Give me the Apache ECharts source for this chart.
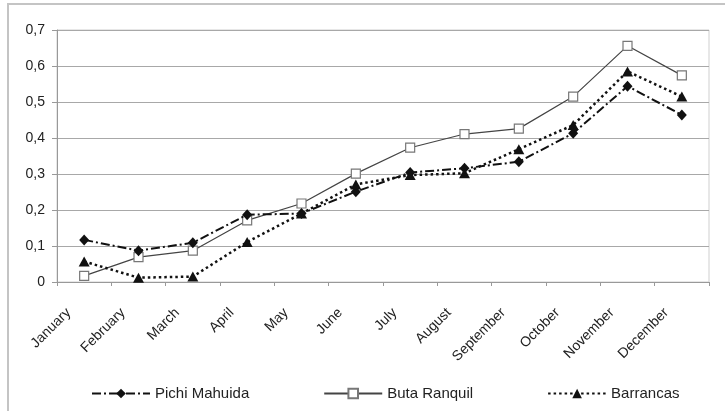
<!DOCTYPE html>
<html>
<head>
<meta charset="utf-8">
<script src="https://cdn.jsdelivr.net/npm/echarts@6/dist/echarts.min.js"></script>
<style>
  html, body { margin: 0; padding: 0; background: #fff; }
  #chart { width: 725px; height: 411px; }
</style>
</head>
<body>
<div id="chart"></div>
<script>
// Monthly values per station
const months = ['January', 'February', 'March', 'April', 'May', 'June', 'July',
  'August', 'September', 'October', 'November', 'December'];
const pichiMahuida = [0.117, 0.087, 0.109, 0.187, 0.19, 0.251, 0.304, 0.316, 0.334, 0.413, 0.544, 0.464];
const butaRanquil = [0.017, 0.069, 0.087, 0.171, 0.218, 0.301, 0.373, 0.411, 0.426, 0.515, 0.656, 0.574];
const barrancas = [0.057, 0.012, 0.015, 0.111, 0.19, 0.271, 0.297, 0.302, 0.369, 0.436, 0.585, 0.515];
const yTicks = [0, 0.1, 0.2, 0.3, 0.4, 0.5, 0.6, 0.7];

const FONT = '"Liberation Sans", Arial, sans-serif';
const chart = echarts.init(document.getElementById('chart'), null, { renderer: 'canvas' });

chart.setOption({
  animation: false,
  backgroundColor: '#fff',
  graphic: [{
    type: 'rect',
    shape: { x: 8, y: 4, width: 800, height: 500 },
    style: { fill: 'none', stroke: '#c4c4c4', lineWidth: 2 },
    silent: true
  }],
  grid: {
    left: 57, right: 16, top: 30, bottom: 129,
    show: true, borderColor: '#cfcfcf', borderWidth: 1
  },
  legend: {
    left: 86, top: 381,
    itemWidth: 58, itemHeight: 12, itemGap: 74,
    textStyle: { fontFamily: FONT, fontSize: 15, color: '#222' },
    data: ['Pichi Mahuida', 'Buta Ranquil', 'Barrancas']
  },
  xAxis: {
    type: 'category',
    data: months,
    boundaryGap: true,
    axisLine: { lineStyle: { color: '#999', width: 1 } },
    axisTick: { show: true, length: 4, lineStyle: { color: '#999' } },
    axisLabel: {
      rotate: 45, margin: 13, padding: [0, 22, 0, 0],
      interval: 0,
      fontFamily: FONT, fontSize: 14, color: '#222'
    },
    splitLine: { show: false }
  },
  yAxis: {
    type: 'value',
    min: yTicks[0], max: yTicks[yTicks.length - 1], interval: 0.1,
    axisLine: { show: true, lineStyle: { color: '#999' } },
    axisTick: { show: true, length: 5, lineStyle: { color: '#999' } },
    axisLabel: {
      margin: 12, fontFamily: FONT, fontSize: 14, color: '#222',
      formatter: v => (Math.round(v * 10) / 10).toString().replace('.', ',')
    },
    splitLine: { lineStyle: { color: '#a8a8a8', width: 1 } }
  },
  series: [
    {
      name: 'Buta Ranquil', type: 'line', data: butaRanquil,
      symbol: 'rect', symbolSize: 9,
      lineStyle: { color: '#444', width: 1.2, type: 'solid' },
      itemStyle: { color: '#fff', borderColor: '#777', borderWidth: 1.2 },
      z: 2
    },
    {
      name: 'Pichi Mahuida', type: 'line', data: pichiMahuida,
      symbol: 'diamond', symbolSize: [10, 11],
      lineStyle: { color: '#111', width: 2, type: [9, 3, 2, 3] },
      itemStyle: { color: '#111' },
      z: 3
    },
    {
      name: 'Barrancas', type: 'line', data: barrancas,
      symbol: 'triangle', symbolSize: [11, 10],
      lineStyle: { color: '#111', width: 2.5, type: [2.5, 3] },
      itemStyle: { color: '#111' },
      z: 4
    }
  ]
});
</script>
</body>
</html>
